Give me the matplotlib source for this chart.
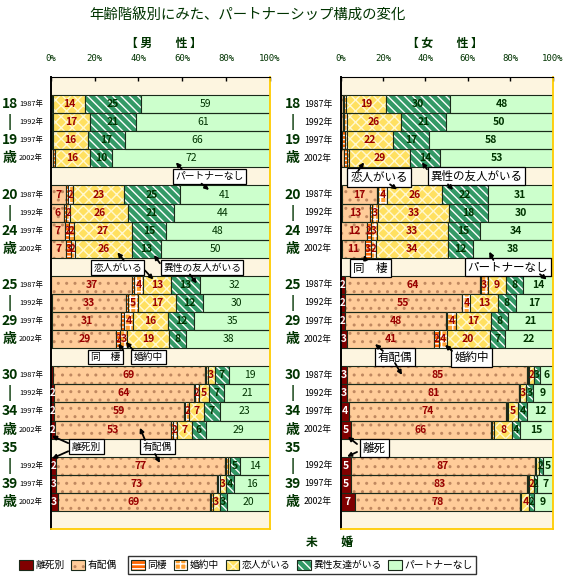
import numpy as np
import matplotlib
matplotlib.use('Agg')
import matplotlib.pyplot as plt
from matplotlib.patches import Patch

plt.rcParams['font.family'] = ['Noto Sans CJK JP', 'DejaVu Sans']
plt.rcParams['hatch.linewidth'] = 1.0

# ---- data -------------------------------------------------------------
categories = ['離死別', '有配偶', '同棲', '婚約中', '恋人がいる', '異性友達がいる', 'パートナーなし']
years = ['1987年', '1992年', '1997年', '2002年'] * 4 + ['1992年', '1997年', '2002年']
age_groups = [('18', '19'), ('20', '24'), ('25', '29'), ('30', '34'), ('35', '39')]

# rows: 18-19 x4, 20-24 x4, 25-29 x4, 30-34 x4, 35-39 (1992, 1997, 2002)
men_rishi = [0, 0, 0, 0, 0, 0, 0, 0, 0.3, 0.8, 0.8, 0.8, 1.0, 1.6, 1.6, 1.8, 2.2, 2.6, 3.2]
men_haigu = [0.4, 0.3, 0.5, 1.0, 7.0, 6.0, 6.6, 6.8, 37.0, 33.4, 31.2, 29.0, 69.4, 63.6, 59.0, 53.2, 77.4, 73.4, 69.4]
men_dosei = [0.8, 0.5, 0.5, 1.0, 1.0, 1.0, 1.8, 2.6, 0.8, 1.0, 1.4, 2.0, 0.3, 0.4, 0.8, 0.6, 0.4, 0.4, 0.6]
men_konyaku = [0, 0.2, 0, 0, 2.0, 2.0, 2.0, 1.6, 3.9, 4.6, 4.0, 3.0, 1.0, 1.8, 1.6, 2.0, 0.8, 0.6, 0.8]
men_koibito = [14.4, 17.0, 16.0, 16.0, 23.4, 26.4, 26.8, 26.0, 13.0, 17.4, 16.2, 19.0, 3.0, 5.0, 6.8, 6.8, 1.0, 2.8, 3.0]
men_isei = [25.4, 21.0, 17.0, 10.0, 25.4, 21.0, 15.2, 13.4, 13.0, 12.4, 11.8, 8.0, 6.6, 6.8, 7.2, 6.4, 4.6, 4.0, 3.2]
men_nashi = [59.0, 61.0, 66.0, 72.0, 41.2, 43.6, 47.6, 49.6, 32.0, 30.4, 34.6, 38.2, 18.7, 20.8, 23.0, 29.2, 13.6, 16.2, 19.8]

women_rishi = [0, 0, 0, 0, 0.4, 0.5, 0.3, 0.8, 2.0, 2.0, 2.2, 2.8, 3.1, 3.2, 4.0, 4.9, 4.9, 4.9, 6.6]
women_haigu = [1.0, 1.0, 0.8, 1.5, 16.6, 13.1, 12.0, 10.6, 63.6, 55.0, 47.6, 41.4, 85.0, 80.8, 73.8, 65.8, 86.6, 83.2, 77.8]
women_dosei = [0.6, 0.6, 1.0, 1.5, 0.6, 1.2, 2.0, 2.8, 0.4, 0.4, 0.4, 2.2, 0.2, 0.2, 0.7, 0.8, 0.2, 0.2, 0.4]
women_konyaku = [0.8, 1.4, 1.0, 1.0, 4.2, 3.0, 2.8, 2.4, 3.4, 3.8, 4.0, 3.6, 0.5, 0.4, 0.3, 1.0, 0.2, 0.6, 0.4]
women_koibito = [19.2, 25.6, 21.8, 28.6, 26.0, 33.4, 33.4, 33.8, 8.8, 13.0, 16.8, 20.2, 2.4, 3.0, 4.8, 8.2, 1.5, 2.2, 3.8]
women_isei = [30.0, 21.0, 17.2, 14.4, 21.6, 18.4, 15.1, 12.0, 7.8, 8.4, 7.9, 7.4, 2.8, 3.0, 4.2, 3.9, 1.8, 1.7, 2.0]
women_nashi = [48.4, 50.4, 58.2, 53.0, 30.6, 30.4, 34.4, 37.6, 14.0, 17.4, 21.1, 22.4, 6.0, 9.4, 12.2, 15.4, 4.8, 7.2, 9.0]

# ---- layout / styles ----------------------------------------------------
slots = [1, 2, 3, 4, 6, 7, 8, 9, 11, 12, 13, 14, 16, 17, 18, 19, 21, 22, 23]
age_top = [1, 6, 11, 16, 20]
faces = ['#800000', '#FFCC99', '#FF6600', '#FFA030', '#FFE060', '#339966', '#CCFFCC']
hatches = [None, '..', '----', '+++', 'xxx', '\\\\\\\\', None]
hcolors = ['#800000', '#C08860', 'white', 'white', '#FFF8D0', 'white', '#CCFFCC']
DARK = '#003300'
OUT = '#1A2A1A'

W, H = 566, 579
fig = plt.figure(figsize=(W / 100, H / 100), dpi=100)
fig.patch.set_facecolor('white')


def fx(px):
    return px / W


def fy(py):
    return 1 - py / H


axm = fig.add_axes([fx(50.7), fy(529), 219.3 / W, 452 / H])
axw = fig.add_axes([fx(340.7), fy(529), 212 / W, 452 / H])


def draw_panel(ax, series, women):
    ax.set_facecolor('#FDF5E0')
    ax.set_xlim(0, 100)
    ax.set_ylim(25, 0)
    ax.xaxis.tick_top()
    ax.set_xticks([0, 20, 40, 60, 80, 100])
    ax.set_xticklabels(['0%', '20%', '40%', '60%', '80%', '100%'],
                       family='DejaVu Sans Mono', fontsize=6.5, color=DARK)
    ax.tick_params(axis='x', direction='in', length=3, pad=10, width=1)
    ax.set_yticks([])
    ax.spines['top'].set_color('black')
    ax.spines['left'].set_color('black')
    ax.spines['left'].set_linewidth(1.4)
    ax.spines['right'].set_color('#FFCC00')
    ax.spines['bottom'].set_color('#FFCC00')
    ax.spines['right'].set_linewidth(1.3)
    ax.spines['bottom'].set_linewidth(1.3)

    y = np.array(slots) + 0.5
    left = np.zeros(len(slots))
    for i, vals in enumerate(series):
        vals = np.array(vals, dtype=float)
        ax.barh(y, vals, left=left, height=1.0, color=faces[i], edgecolor=hcolors[i],
                hatch=hatches[i], linewidth=0)
        ax.barh(y, vals, left=left, height=1.0, fill=False, edgecolor=OUT, linewidth=0.8)
        for yy, l, v in zip(y, left, vals):
            if v >= 1.6:
                if i == 0:
                    c, w = 'white', 'bold'
                elif i <= 4:
                    c, w = '#990000', 'bold'
                elif i == 5:
                    c, w = DARK, 'bold'
                else:
                    c, w = DARK, 'bold' if women else 'normal'
                ax.text(l + v / 2, yy, str(int(v + 0.5)), ha='center', va='center',
                        fontsize=7.5 if v >= 3 else 7, color=c, fontweight=w)
        left = left + vals

    # year labels
    tr = ax.get_yaxis_transform()
    xr = -0.041 if women else -0.035
    for yy, yr in zip(y, years):
        ax.text(xr, yy, yr, transform=tr, ha='right', va='center',
                fontsize=6.3 if women else 5.3, color='black', clip_on=False)
    # age labels
    xa = -0.225 if women else -0.186
    for top, (a, b) in zip(age_top, age_groups):
        for k, s in enumerate([a, '|', b, '歳']):
            ax.text(xa, top + k + 0.5, s, transform=tr, ha='center', va='center',
                    fontsize=10, fontweight='bold', color=DARK, clip_on=False)


def callout(ax, text, xy, arrows, size):
    ax.text(xy[0], xy[1], text, ha='center', va='center', fontsize=size, zorder=6,
            bbox=dict(boxstyle='square,pad=0.25', fc='white', ec='black', lw=0.9))
    for tail, head in arrows:
        ax.annotate('', xy=head, xytext=tail, zorder=7,
                    arrowprops=dict(arrowstyle='-|>', color='black', lw=1.3,
                                    mutation_scale=6, shrinkA=0, shrinkB=0))


men = [men_rishi, men_haigu, men_dosei, men_konyaku, men_koibito, men_isei, men_nashi]
women = [women_rishi, women_haigu, women_dosei, women_konyaku, women_koibito, women_isei, women_nashi]
draw_panel(axm, men, False)
draw_panel(axw, women, True)

# callouts (male)
callout(axm, 'パートナーなし', (72.6, 5.5), [((59.8, 5.1), (57.1, 4.72)), ((68.8, 5.9), (72.2, 6.25))], 7)
callout(axm, '恋人がいる', (30.5, 10.54), [((33.4, 10.15), (30.4, 9.7)), ((43.0, 10.7), (46.8, 11.2))], 7)
callout(axm, '異性の友人がいる', (69.0, 10.56), [((49.8, 10.3), (47.1, 9.85)), ((63.5, 10.92), (66.6, 11.42))], 7)
callout(axm, '同　棲', (25.0, 15.49), [((33.0, 15.1), (30.8, 14.75))], 7)
callout(axm, '婚約中', (44.6, 15.49), [((37.5, 15.1), (34.3, 14.65))], 7)
callout(axm, '離死別', (16.3, 20.46), [((8.0, 20.25), (0.6, 19.85)), ((8.0, 20.7), (0.6, 21.1))], 7)
callout(axm, '有配偶', (48.7, 20.46), [((43.0, 20.08), (40.7, 19.4)), ((47.6, 20.85), (49.8, 21.35))], 7)

# callouts (female)
callout(axw, '恋人がいる', (18.1, 5.56), [((8.2, 5.2), (11.0, 4.72)), ((23.3, 5.94), (26.6, 6.22))], 8.3)
callout(axw, '異性の友人がいる', (64.1, 5.48), [((40.7, 5.1), (38.3, 4.72)), ((50.6, 5.94), (53.0, 6.25))], 8.3)
callout(axw, '同　棲', (14.1, 10.56), [((11.8, 10.15), (11.0, 9.85))], 8.3)
callout(axw, 'パートナーなし', (78.9, 10.51), [((72.0, 10.12), (70.1, 9.66)), ((94.0, 10.91), (97.2, 11.2))], 8.3)
callout(axw, '有配偶', (25.6, 15.49), [((19.9, 15.15), (16.2, 14.77)), ((25.6, 15.82), (28.9, 16.48))], 8.3)
callout(axw, '婚約中', (61.7, 15.51), [((52.5, 15.15), (49.2, 14.82))], 8.3)
callout(axw, '離死', (15.9, 20.52), [((7.7, 20.3), (3.4, 19.9)), ((7.7, 20.74), (3.0, 21.0))], 8.3)

# titles
fig.text(fx(247), fy(16), '年齢階級別にみた、パートナーシップ構成の変化', ha='center', va='center',
         fontsize=10.4, color=DARK)
fig.text(fx(164), fy(43), '【 男　　性 】', ha='center', va='center', fontsize=8.5,
         fontweight='bold', color=DARK)
fig.text(fx(445), fy(43), '【 女　　性 】', ha='center', va='center', fontsize=8.5,
         fontweight='bold', color=DARK)
fig.text(fx(329), fy(542), '未　　婚', ha='center', va='center', fontsize=8.5,
         fontweight='bold', color=DARK)

# legend
handles = []
for i in range(len(categories)):
    p1 = Patch(facecolor=faces[i], edgecolor=hcolors[i], hatch=hatches[i], linewidth=0)
    p2 = Patch(fill=False, edgecolor=OUT, linewidth=0.8)
    handles.append((p1, p2))
common = dict(fontsize=7, handlelength=1.4, handleheight=1.3, handletextpad=0.25,
              columnspacing=0.7, borderpad=0.35)
fig.legend(handles[:2], categories[:2], loc='center', bbox_to_anchor=(fx(68), fy(565)),
           ncol=2, frameon=False, **common)
leg = fig.legend(handles[2:], categories[2:], loc='center', bbox_to_anchor=(fx(302), fy(565)),
                 ncol=5, frameon=True, fancybox=False, edgecolor='black', **common)
leg.get_frame().set_linewidth(1.0)

fig.savefig('out.png', dpi=100)
